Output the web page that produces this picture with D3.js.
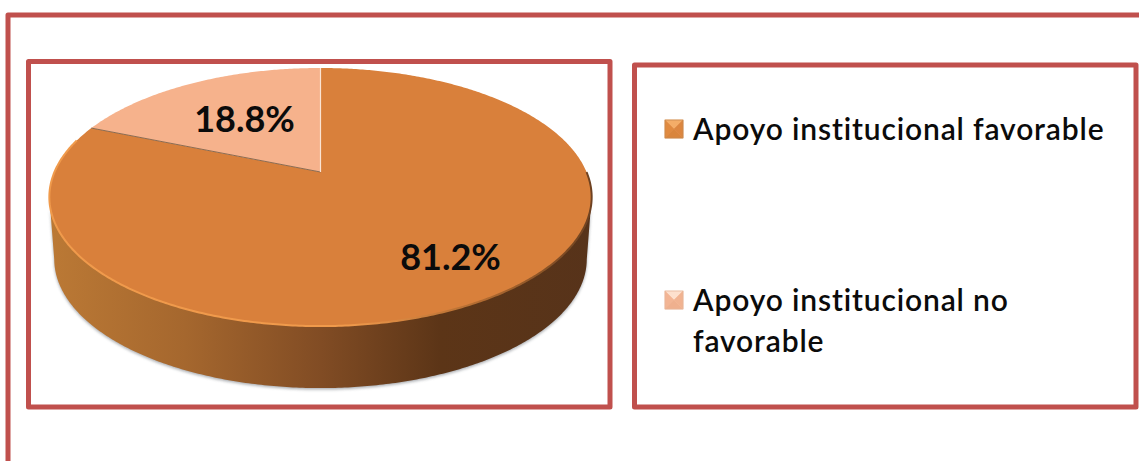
<!DOCTYPE html>
<html>
<head>
<meta charset="utf-8">
<script src="https://cdn.jsdelivr.net/npm/d3@7"></script>
<style>
  html, body { margin: 0; padding: 0; background: #fff; }
  svg { display: block; }
  text { font-family: Lato, "Open Sans", sans-serif; fill: #0b0b0b; }
</style>
</head>
<body>
<svg id="chart" width="1139" height="461"></svg>
<script>
// Survey result: share of respondents by perceived institutional support.
const categories = ["Apoyo institucional favorable", "Apoyo institucional no favorable"];
const values = [81.2, 18.8];
const valueLabels = ["81.2%", "18.8%"];
const legendLines = [["Apoyo institucional favorable"], ["Apoyo institucional no", "favorable"]];
const sliceColors = ["#d9803b", "#f6b28c"];
const markerShades = [
  ["#f4ad68", "#e08a40", "#d9853c", "#dc8640"],
  ["#fde0cd", "#f3b594", "#efb08e", "#f1b391"]
];

const svg = d3.select("#chart");
const frameColor = "#c0504d";

// Frames: outer panel runs off the page on the right and bottom.
const frames = [
  { x: 8, y: 15, w: 1160, h: 480, sw: 5 },
  { x: 28.5, y: 61.5, w: 581.5, h: 345.5, sw: 5 },
  { x: 634.5, y: 65, w: 501.5, h: 342, sw: 5 }
];
svg.selectAll("rect.frame").data(frames).join("rect")
  .attr("class", "frame")
  .attr("x", d => d.x).attr("y", d => d.y)
  .attr("width", d => d.w).attr("height", d => d.h)
  .attr("fill", "none").attr("stroke", frameColor)
  .attr("stroke-width", d => d.sw).attr("stroke-linejoin", "round");

const defs = svg.append("defs");
const sideGrad = defs.append("linearGradient").attr("id", "sideGrad")
  .attr("gradientUnits", "userSpaceOnUse")
  .attr("x1", 50).attr("x2", 592).attr("y1", 0).attr("y2", 0);
[[0, "#bb7935"], [0.25, "#a5672e"], [0.5, "#814c24"], [0.72, "#5c3517"], [1, "#57331a"]]
  .forEach(([o, c]) => sideGrad.append("stop").attr("offset", o).attr("stop-color", c));
const rimGrad = defs.append("linearGradient").attr("id", "rimGrad")
  .attr("gradientUnits", "userSpaceOnUse")
  .attr("x1", 50).attr("x2", 592).attr("y1", 0).attr("y2", 0);
[[0, "#f09a4c"], [0.55, "#f09a4c"], [0.8, "#b06a30"], [1, "#6d4120"]]
  .forEach(([o, c]) => rimGrad.append("stop").attr("offset", o).attr("stop-color", c));
defs.append("filter").attr("id", "soft").attr("x", "-5%").attr("y", "-5%")
  .attr("width", "110%").attr("height", "110%")
  .append("feGaussianBlur").attr("stdDeviation", 1.8);
defs.append("filter").attr("id", "bevel").attr("x", "-5%").attr("y", "-5%")
  .attr("width", "110%").attr("height", "110%")
  .append("feGaussianBlur").attr("stdDeviation", 0.7);

// Perspective projection of a unit disc on to the page, tilted away at the top.
const apexX = 320.5, apexY = 172, discR = 266, discB = 124.2, tilt = -0.194, depth = 62;
const project = (angle) => {
  const u = Math.sin(angle), v = -Math.cos(angle), w = 1 + tilt * v;
  return [apexX + discR * u / w, apexY + discB * v / w];
};
const line = d3.line();
const arcPoints = (a0, a1) => {
  const n = Math.max(2, Math.ceil((a1 - a0) / 0.01));
  return d3.range(n + 1).map(i => project(a0 + (a1 - a0) * i / n));
};

const slices = d3.pie().sort(null)(values);
const ellipseMidY = (project(0)[1] + project(Math.PI)[1]) / 2;

// Wall of the cylinder: the near half of the rim, dropped by the depth.
const rim = arcPoints(0, 2 * Math.PI).filter(p => p[1] >= ellipseMidY).sort((a, b) => a[0] - b[0]);
const lower = rim.map(p => [apexX + (p[0] - apexX) * 0.982, p[1] + depth]).reverse();
const wall = line(rim.concat(lower)) + "Z";

svg.append("path").attr("d", wall).attr("fill", "#8d9196").attr("opacity", 0.75)
  .attr("transform", "translate(0,1.5)").attr("filter", "url(#soft)");
svg.append("path").attr("d", wall).attr("fill", "url(#sideGrad)");

// Top face of each slice.
svg.selectAll("path.slice").data(slices).join("path")
  .attr("class", "slice")
  .attr("d", d => line([[apexX, apexY]].concat(arcPoints(d.startAngle, d.endAngle))) + "Z")
  .attr("fill", (d, i) => sliceColors[i]);

// Bevel highlight along the near rim and the fine seams between slices.
svg.append("path")
  .attr("d", line(arcPoints(Math.PI / 2, slices[0].endAngle - 0.12)))
  .attr("fill", "none").attr("stroke", "url(#rimGrad)").attr("stroke-width", 2)
  .attr("filter", "url(#bevel)");
const seam = project(slices[1].startAngle);
svg.append("path").attr("d", line([seam, [apexX, apexY]]))
  .attr("fill", "none").attr("stroke", "#8a6a50").attr("stroke-width", 1);
svg.append("path").attr("d", line([[apexX, apexY], project(0)]))
  .attr("fill", "none").attr("stroke", "#fbe3d3").attr("stroke-width", 1.2);

// Value labels.
const labelPos = [[450.5, 257], [244.5, 119]];
svg.selectAll("text.value").data(valueLabels).join("text")
  .attr("class", "value")
  .attr("x", (d, i) => labelPos[i][0]).attr("y", (d, i) => labelPos[i][1])
  .attr("dy", "0.36em").attr("text-anchor", "middle")
  .attr("font-size", 36).attr("font-weight", 700)
  .text(d => d);

// Legend with bevelled square markers.
const legendY = [129, 300];
const markerX = 665, markerS = 18;
const legend = svg.selectAll("g.legend").data(categories).join("g")
  .attr("class", "legend")
  .attr("transform", (d, i) => `translate(${markerX},${legendY[i] - markerS / 2})`);
legend.each(function (d, i) {
  const g = d3.select(this), s = markerS, m = s / 2;
  const faces = [
    [[0, 0], [s, 0], [m, m]],
    [[0, 0], [0, s], [m, m]],
    [[0, s], [s, s], [m, m]],
    [[s, 0], [s, s], [m, m]]
  ];
  g.selectAll("path").data(faces).join("path")
    .attr("d", f => line(f) + "Z")
    .attr("fill", (f, k) => markerShades[i][k])
    .attr("stroke", (f, k) => markerShades[i][k])
    .attr("stroke-width", 0.6);
  g.append("rect").attr("width", s).attr("height", s).attr("fill", "none")
    .attr("stroke", i ? "#e6b79c" : "#c98a50").attr("stroke-width", 0.8);
  g.selectAll("text").data(legendLines[i]).join("text")
    .attr("x", 693 - markerX)
    .attr("y", (t, j) => m + j * 41)
    .attr("dy", "0.36em")
    .attr("font-size", 30).attr("font-weight", 600)
    .attr("letter-spacing", 0.85)
    .text(t => t);
});
</script>
</body>
</html>
